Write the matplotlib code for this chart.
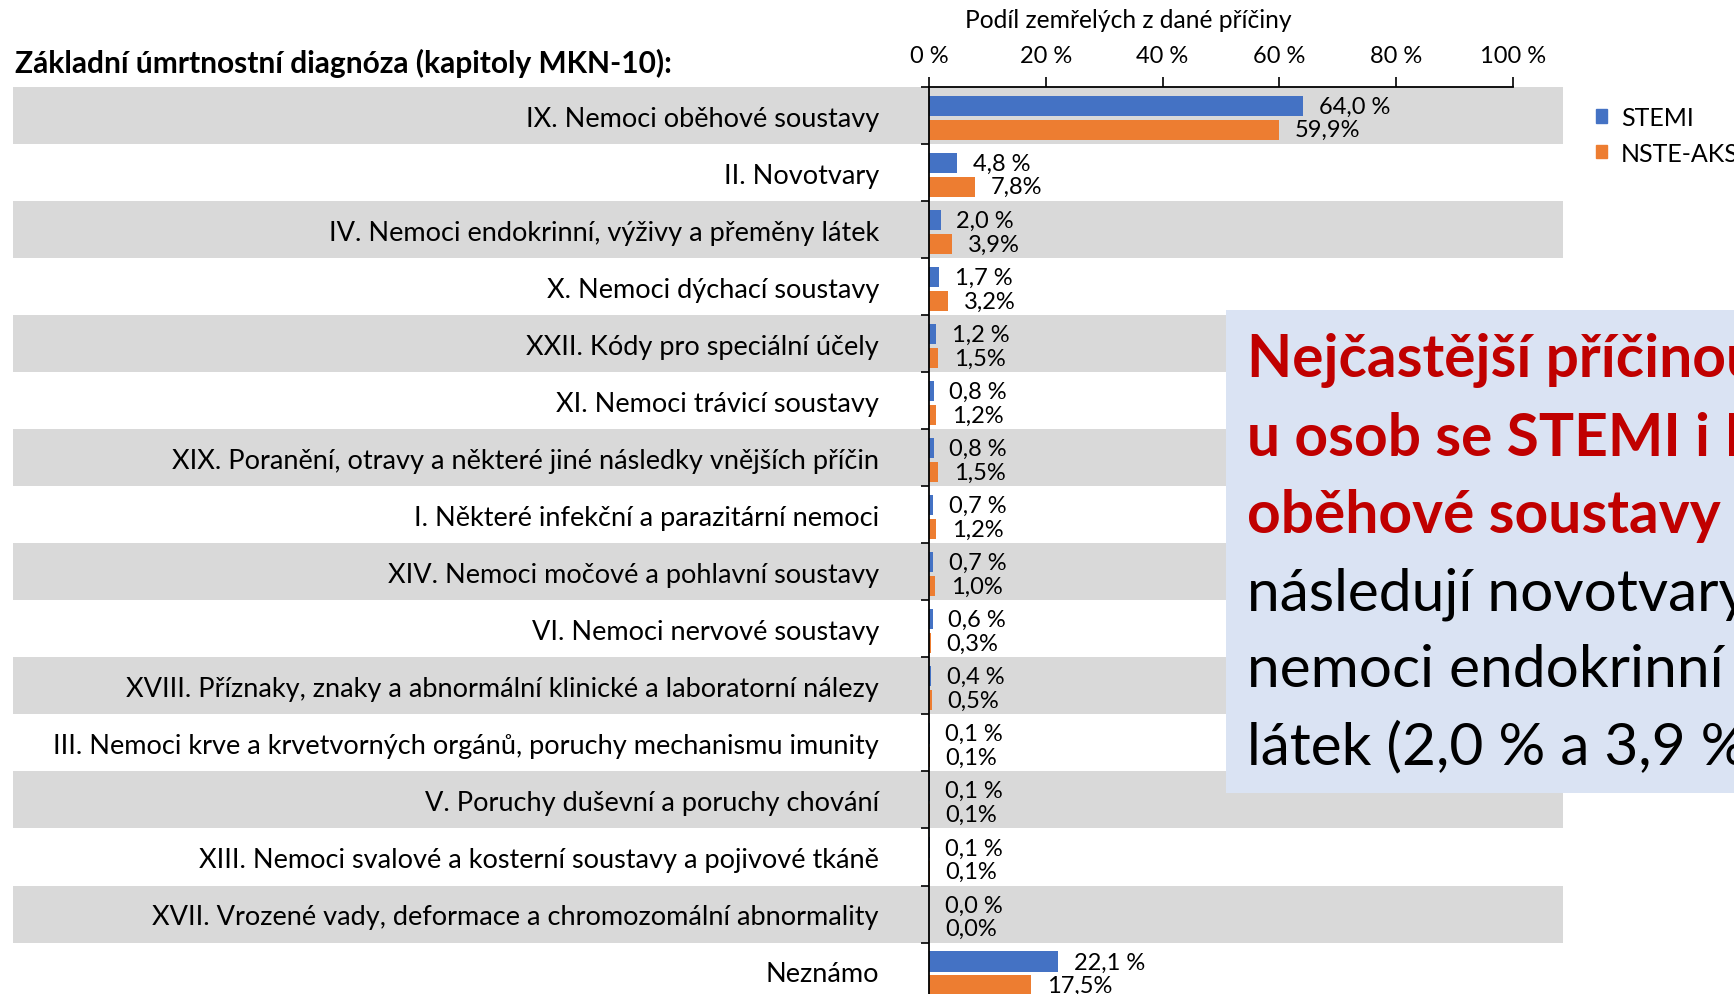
import matplotlib.pyplot as plt
import matplotlib.transforms as mtransforms
from matplotlib.patches import Rectangle, Patch

plt.rcParams['font.family'] = ['Lato', 'DejaVu Sans']

categories = [
    "IX. Nemoci oběhové soustavy",
    "II. Novotvary",
    "IV. Nemoci endokrinní, výživy a přeměny látek",
    "X. Nemoci dýchací soustavy",
    "XXII. Kódy pro speciální účely",
    "XI. Nemoci trávicí soustavy",
    "XIX. Poranění, otravy a některé jiné následky vnějších příčin",
    "I. Některé infekční a parazitární nemoci",
    "XIV. Nemoci močové a pohlavní soustavy",
    "VI. Nemoci nervové soustavy",
    "XVIII. Příznaky, znaky a abnormální klinické a laboratorní nálezy",
    "III. Nemoci krve a krvetvorných orgánů, poruchy mechanismu imunity",
    "V. Poruchy duševní a poruchy chování",
    "XIII. Nemoci svalové a kosterní soustavy a pojivové tkáně",
    "XVII. Vrozené vady, deformace a chromozomální abnormality",
    "Neznámo",
]
stemi = [64.0, 4.8, 2.0, 1.7, 1.2, 0.8, 0.8, 0.7, 0.7, 0.6, 0.4, 0.1, 0.1, 0.1, 0.0, 22.1]
nste = [59.9, 7.8, 3.9, 3.2, 1.5, 1.2, 1.5, 1.2, 1.0, 0.3, 0.5, 0.1, 0.1, 0.1, 0.0, 17.5]
x_ticks = [0, 20, 40, 60, 80, 100]

BLUE = "#4472C4"
ORANGE = "#ED7D31"
BAND = "#D9D9D9"

fig = plt.figure(figsize=(17.34, 9.95), dpi=100)
ax = fig.add_axes([929 / 1734, 1 - 1000.6 / 995, (1513 - 929) / 1734, 912.6 / 995])
ax.patch.set_visible(False)

n = len(categories)
rows = list(range(n))

# alternating grey bands spanning label area and plot
blend = mtransforms.blended_transform_factory(fig.transFigure, ax.transData)
for i in rows[::2]:
    ax.add_patch(Rectangle((13 / 1734, i), (1563 - 13) / 1734, 1, transform=blend,
                           color=BAND, clip_on=False, zorder=0, lw=0))

h = 0.36
ax.barh([r + 0.33 for r in rows], stemi, height=h, color=BLUE, zorder=2)
ax.barh([r + 0.75 for r in rows], nste, height=h, color=ORANGE, zorder=2)

for r, (s, o) in enumerate(zip(stemi, nste)):
    ax.text(s + 2.7, r + 0.34, f"{s:.1f} %".replace(".", ","), va="center",
            ha="left", fontsize=17, zorder=3)
    ax.text(o + 2.7, r + 0.75, f"{o:.1f}%".replace(".", ","), va="center",
            ha="left", fontsize=17, zorder=3)

ax.set_xlim(0, 100)
ax.set_ylim(n, 0)
ax.xaxis.tick_top()
ax.set_xticks(x_ticks)
ax.set_xticklabels([f"{t} %" for t in x_ticks], fontsize=17)
ax.tick_params(axis="x", direction="out", length=7, width=1.2, pad=8)

ax.set_yticks([r + 0.5 for r in rows])
ax.set_yticklabels(categories, fontsize=19.5)
ax.tick_params(axis="y", length=0, pad=36)
ax.set_yticks(list(range(n + 1)), minor=True)
ax.tick_params(axis="y", which="minor", length=6, width=1.2, direction="out")

for side in ["right", "bottom"]:
    ax.spines[side].set_visible(False)
ax.spines["left"].set_linewidth(1.3)
ax.spines["top"].set_linewidth(1.3)

fig.text(15 / 1734, 1 - 63 / 995, "Základní úmrtnostní diagnóza (kapitoly MKN-10):",
         fontsize=21.5, fontweight="bold", va="center", ha="left")
fig.text(1128 / 1734, 1 - 21 / 995, "Podíl zemřelých z dané příčiny",
         fontsize=17.7, va="center", ha="center")

handles = [Patch(color=BLUE, label="STEMI"), Patch(color=ORANGE, label="NSTE-AKS")]
fig.legend(handles=handles, loc="upper left", bbox_to_anchor=(1586 / 1734, 1 - 97 / 995),
           frameon=False, fontsize=18, handlelength=0.45, handleheight=0.45,
           handletextpad=0.55, labelspacing=0.5, borderaxespad=0)

# annotation box
fig.patches.append(Rectangle((1226 / 1734, 1 - 794 / 995), (1734 - 1226) / 1734,
                             (794 - 311) / 995, transform=fig.transFigure,
                             color="#DAE3F3", lw=0, zorder=5))
red_lines = ["Nejčastější příčinou", "u osob se STEMI i N", "oběhové soustavy"]
black_lines = ["následují novotvary", "nemoci endokrinní", "látek (2,0 % a 3,9 %"]
ys = [360, 439, 516, 594, 671, 748]
for y, line in zip(ys, red_lines + black_lines):
    bold = line in red_lines
    fig.text(1247 / 1734, 1 - y / 995, line, fontsize=42.2,
             fontweight="bold" if bold else "normal",
             color="#C00000" if bold else "black", va="center", ha="left", zorder=6)

fig.savefig("out.png", dpi=100)
